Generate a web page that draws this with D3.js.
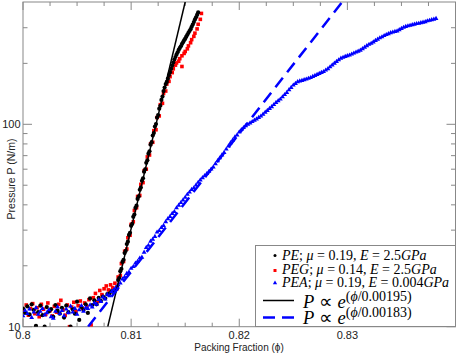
<!DOCTYPE html>
<html lang="en">
<head>
<meta charset="utf-8">
<title>Pressure vs packing fraction</title>
<script src="https://cdn.jsdelivr.net/npm/d3@7"></script>
<style>
  body { margin: 0; background: #fff; }
  svg { display: block; }
</style>
</head>
<body>
<svg id="chart"></svg>
<script>
// PE: mu=0.19, E=2.5GPa   [phi, P]
const peData = [
  [0.8000,12.3],[0.8002,11.7],[0.8004,12.6],[0.8006,11.5],[0.8008,12.9],[0.8010,12.1],[0.8012,10.1],
  [0.8014,11.8],[0.8016,12.7],[0.8018,11.4],[0.8020,10.0],[0.8022,12.5],[0.8024,11.9],[0.8026,12.2],
  [0.8028,11.2],[0.8030,12.8],[0.8032,12.0],[0.8034,11.6],[0.8036,12.4],[0.8038,11.1],[0.8040,12.7],
  [0.8042,11.8],[0.8044,10.0],[0.8046,12.2],[0.8048,11.6],[0.8050,13.3],[0.8052,10.8],[0.8054,12.5],
  [0.8056,12.1],[0.8058,12.9],[0.8060,11.7],[0.8062,13.8],[0.8064,12.8],[0.8066,13.5],[0.8068,12.9],
  [0.8070,13.9],[0.8072,13.4],[0.8074,14.1],[0.8076,13.8],[0.8078,14.5],[0.8080,14.6],[0.8082,15.0],
  [0.8084,14.8],[0.8086,15.3],[0.8087,15.7],[0.8088,17.0],[0.8089,17.4],[0.8090,18.8],[0.8091,19.3],
  [0.8092,20.9],[0.8093,21.4],[0.8094,23.1],[0.8095,23.7],[0.8096,25.6],[0.8097,26.3],[0.8098,28.4],
  [0.8099,29.1],[0.8100,31.5],[0.8101,32.2],[0.8102,34.9],[0.8103,35.8],[0.8104,38.6],[0.8105,39.6],
  [0.8106,42.8],[0.8107,44.0],[0.8108,47.5],[0.8109,48.7],[0.8110,52.6],[0.8111,54.1],[0.8112,58.3],
  [0.8113,59.9],[0.8114,64.5],[0.8115,66.4],[0.8116,71.6],[0.8117,73.6],[0.8118,79.3],[0.8119,81.6],
  [0.8120,88.0],[0.8121,90.5],[0.8122,97.5],[0.8123,100.3],[0.8124,108],[0.8125,111],[0.8126,119.5],
  [0.8127,123.5],[0.8128,132],[0.8129,137],[0.8130,146],[0.8131,152],[0.8132,158],[0.8133,162],
  [0.8134,168],[0.8135,175],[0.8136,181],[0.8137,188],[0.8138,195],[0.8139,202],[0.8140,209],
  [0.8141,215],[0.8142,221],[0.8143,227],[0.8144,233],[0.8145,238],[0.8146,243],[0.8147,249],
  [0.8148,254],[0.8149,260],[0.8150,265],[0.8151,271],[0.8152,277],[0.8153,283],[0.8154,289],
  [0.8155,295],[0.8156,303],[0.8157,311],[0.8158,320],[0.8159,329],[0.8160,338],[0.8161,347],[0.8162,357]
];

// PEG: mu=0.14, E=2.5GPa
const pegData = [
  [0.8001,11.9],[0.8003,12.8],[0.8005,11.4],[0.8007,12.3],[0.8009,13.0],[0.8011,11.6],[0.8013,12.4],
  [0.8015,11.2],[0.8017,12.9],[0.8019,12.2],[0.8021,11.5],[0.8023,13.1],[0.8025,12.0],[0.8027,11.3],
  [0.8029,12.6],[0.8031,11.8],[0.8033,12.9],[0.8035,13.5],[0.8037,12.1],[0.8039,11.4],[0.8041,12.8],
  [0.8043,10.0],[0.8045,12.5],[0.8047,13.2],[0.8049,11.9],[0.8051,12.7],[0.8053,13.4],[0.8055,12.3],
  [0.8057,13.1],[0.8059,12.6],[0.8061,13.6],[0.8063,10.2],[0.8065,13.9],[0.8067,14.6],[0.8069,13.3],
  [0.8071,15.1],[0.8073,14.4],[0.8075,15.4],[0.8077,15.9],[0.8079,15.2],[0.8081,16.1],[0.8083,15.6],
  [0.8085,16.4],[0.8087,15.4],[0.8088,17.6],[0.8090,17.9],[0.8091,20.5],[0.8093,21.0],[0.8094,23.6],
  [0.8096,24.2],[0.8097,27.5],[0.8099,28.3],[0.8100,32.0],[0.8102,33.0],[0.8103,37.5],[0.8105,38.7],
  [0.8106,44.0],[0.8108,44.5],[0.8109,50.5],[0.8111,51.5],[0.8112,59.0],[0.8114,60.0],[0.8115,69.0],
  [0.8117,70.5],[0.8118,80.0],[0.8120,81.5],[0.8121,93.0],[0.8123,94.0],[0.8124,108],[0.8126,110],
  [0.8127,125],[0.8129,127],[0.8130,142],[0.8132,146],[0.8133,158],[0.8135,163],[0.8136,172],
  [0.8138,180],[0.8139,188],[0.8141,196],[0.8142,201],[0.8144,205],[0.8145,211],[0.8147,193],
  [0.8147,218],[0.8149,224],[0.8150,229],[0.8152,236],[0.8153,244],[0.8155,253],[0.8156,262],
  [0.8158,272],[0.8159,282],[0.8161,296],[0.8162,312],[0.8164,330],[0.8165,353]
];

// PEA: mu=0.19, E=0.004GPa
const peaData = [
  [0.8000,11.3],[0.8002,12.0],[0.8004,11.6],[0.8006,12.2],[0.8008,11.1],[0.8010,11.8],[0.8012,12.4],
  [0.8014,11.5],[0.8016,11.9],[0.8018,12.3],[0.8020,11.4],[0.8022,11.7],[0.8024,12.1],[0.8026,11.2],
  [0.8028,11.0],[0.8030,11.9],[0.8032,12.5],[0.8034,11.6],[0.8036,12.0],[0.8038,11.3],[0.8040,12.2],
  [0.8042,11.7],[0.8044,12.6],[0.8046,11.8],[0.8048,12.3],[0.8050,11.5],[0.8052,12.1],[0.8054,12.7],
  [0.8056,11.9],[0.8058,12.4],[0.8060,12.3],[0.8062,12.8],[0.8064,12.5],[0.8066,13.1],[0.8068,12.9],
  [0.8070,13.6],[0.8072,13.3],[0.8074,14.0],[0.8076,13.7],[0.8078,14.4],[0.8080,14.2],[0.8082,14.9],
  [0.8084,15.2],[0.8086,15.6],[0.8088,16.1],[0.8090,16.4],[0.8092,17.2],[0.8094,17.6],[0.8096,18.3],
  [0.8098,18.6],[0.8100,19.4],[0.8102,19.8],[0.8104,20.6],[0.8106,21.0],[0.8108,21.8],[0.8110,22.0],
  [0.8112,23.3],[0.8114,24.6],[0.8116,25.2],[0.8118,26.4],[0.8120,27.0],[0.8122,27.9],[0.8124,29.3],
  [0.8126,29.8],[0.8128,30.9],[0.8130,31.6],[0.8132,33.0],[0.8134,34.1],[0.8136,35.0],[0.8138,36.2],
  [0.8140,37.0],[0.8142,38.6],[0.8144,39.8],[0.8146,41.0],[0.8148,42.2],[0.8150,43.5],[0.8152,45.0],
  [0.8154,46.2],[0.8156,47.6],[0.8158,48.5],[0.8160,50.0],[0.8162,51.6],[0.8164,53.0],[0.8166,54.4],
  [0.8168,55.6],[0.8170,57.0],[0.8172,58.5],[0.8174,60.0],[0.8176,61.5],[0.8178,63.8],[0.8180,66.0],
  [0.8182,68.2],[0.8184,70.4],[0.8186,72.5],[0.8188,75.3],[0.8190,78.0],[0.8192,81.0],[0.8194,83.6],
  [0.8196,86.4],[0.8198,88.5],[0.8200,91.5],[0.8202,94.0],[0.8204,96.2],[0.8206,98.2],[0.8208,99.8],
  [0.8210,101.4],[0.8212,103.0],[0.8214,104.6],[0.8216,106.2],[0.8218,107.9],[0.8220,109.7],[0.8222,112],
  [0.8224,114.5],[0.8226,117],[0.8228,119.5],[0.8230,122],[0.8232,125],[0.8234,128],[0.8236,130.5],
  [0.8238,133],[0.8240,136.5],[0.8242,140],[0.8244,143.5],[0.8246,148],[0.8248,152],[0.8250,156],
  [0.8252,159],[0.8254,162],[0.8256,163.5],[0.8258,164.5],[0.8260,166],[0.8262,167],[0.8264,168.5],
  [0.8266,170],[0.8268,172],[0.8270,174],[0.8272,176],[0.8274,178],[0.8276,180],[0.8278,182],
  [0.8280,185],[0.8282,188],[0.8284,192],[0.8286,196],[0.8288,200],[0.8290,204],[0.8292,208],
  [0.8294,212],[0.8296,214],[0.8298,216],[0.8300,218],[0.8302,219.5],[0.8304,222],[0.8306,224.5],
  [0.8308,227],[0.8310,229.5],[0.8312,232],[0.8314,236],[0.8316,240],[0.8318,244],[0.8320,248],
  [0.8322,251],[0.8324,255],[0.8326,259],[0.8328,263],[0.8330,267],[0.8332,270],[0.8334,274],
  [0.8336,277],[0.8338,280],[0.8340,283],[0.8342,285],[0.8344,287],[0.8346,289],[0.8348,293],
  [0.8350,297],[0.8352,301],[0.8354,304],[0.8356,306],[0.8358,308],[0.8360,310],[0.8362,312],
  [0.8364,314],[0.8366,315],[0.8368,317],[0.8370,319],[0.8372,321],[0.8374,324],[0.8376,326],
  [0.8378,328],[0.8380,330],[0.8382,333]
];

// exponential fits, straight in log space: end points [phi, P]
const fitPE = [[0.80784,10],[0.81500,402]];
const fitPEA = [[0.80602,10],[0.82952,402]];

const xTickVals = [0.8, 0.81, 0.82, 0.83];
const xTickLabels = ["0.8", "0.81", "0.82", "0.83"];
const yTickVals = [10, 100];
const yTickLabels = ["10", "100"];
const yMinor = [20, 30, 40, 50, 60, 70, 80, 90, 200, 300];

const W = 457, H = 355;
const L = 23, R = 455.5, T = 2, B = 326.7;

const svg = d3.select("#chart").attr("width", W).attr("height", H);

const x = d3.scaleLinear().domain([0.8, 0.84]).range([L, R]);
const y = d3.scaleLog().domain([10, 402]).range([B, T]);

svg.append("clipPath").attr("id", "clip")
  .append("rect").attr("x", L).attr("y", T).attr("width", R - L).attr("height", B - T);

const axisCol = "#888";

// frame
svg.append("rect")
  .attr("x", L).attr("y", T).attr("width", R - L).attr("height", B - T)
  .attr("fill", "none").attr("stroke", axisCol).attr("stroke-width", 1);

// ticks on all four sides, pointing in
const xMinor = d3.range(0.8025, 0.84, 0.0025).filter(v => !xTickVals.some(t => Math.abs(t - v) < 1e-6));
const tickG = svg.append("g").attr("stroke", axisCol).attr("stroke-width", 1);
xTickVals.forEach(v => {
  tickG.append("line").attr("x1", x(v)).attr("x2", x(v)).attr("y1", B).attr("y2", B - 8);
  tickG.append("line").attr("x1", x(v)).attr("x2", x(v)).attr("y1", T).attr("y2", T + 8);
});
xMinor.forEach(v => {
  tickG.append("line").attr("x1", x(v)).attr("x2", x(v)).attr("y1", B).attr("y2", B - 4);
  tickG.append("line").attr("x1", x(v)).attr("x2", x(v)).attr("y1", T).attr("y2", T + 4);
});
yTickVals.forEach(v => {
  tickG.append("line").attr("x1", L).attr("x2", L + 9).attr("y1", y(v)).attr("y2", y(v));
  tickG.append("line").attr("x1", R).attr("x2", R - 9).attr("y1", y(v)).attr("y2", y(v));
});
yMinor.forEach(v => {
  tickG.append("line").attr("x1", L).attr("x2", L + 4.5).attr("y1", y(v)).attr("y2", y(v));
  tickG.append("line").attr("x1", R).attr("x2", R - 4.5).attr("y1", y(v)).attr("y2", y(v));
});

const sans = "'Liberation Sans', Arial, sans-serif";

svg.append("g").selectAll("text").data(xTickVals).join("text")
  .attr("x", d => x(d)).attr("y", 339)
  .attr("text-anchor", "middle")
  .style("font-family", sans).style("font-size", "11px").attr("fill", "#222")
  .text((d, i) => xTickLabels[i]);

svg.append("g").selectAll("text").data(yTickVals).join("text")
  .attr("x", 20.5).attr("y", d => y(d) + 4)
  .attr("text-anchor", "end")
  .style("font-family", sans).style("font-size", "11px").attr("fill", "#222")
  .text((d, i) => yTickLabels[i]);

svg.append("text")
  .attr("x", 239).attr("y", 351).attr("text-anchor", "middle")
  .style("font-family", sans).style("font-size", "10px").attr("fill", "#222")
  .text("Packing Fraction (\u03D5)");

svg.append("text")
  .attr("transform", "translate(14.5,179) rotate(-90)")
  .attr("text-anchor", "middle")
  .style("font-family", sans).style("font-size", "10.5px").attr("fill", "#222")
  .text("Pressure P (N/m)");

// data
const plot = svg.append("g").attr("clip-path", "url(#clip)");

plot.append("g").selectAll("rect").data(pegData).join("rect")
  .attr("x", d => x(d[0]) - 1.8).attr("y", d => y(d[1]) - 1.8)
  .attr("width", 3.6).attr("height", 3.6).attr("fill", "#f00");

plot.append("g").selectAll("circle").data(peData).join("circle")
  .attr("cx", d => x(d[0])).attr("cy", d => y(d[1])).attr("r", 2.1)
  .attr("fill", "#000");

const tri = d3.symbol().type(d3.symbolTriangle).size(10);
plot.append("g").selectAll("path").data(peaData).join("path")
  .attr("transform", d => `translate(${x(d[0])},${y(d[1])})`)
  .attr("d", tri).attr("fill", "#00f");

const line = d3.line().x(d => x(d[0])).y(d => y(d[1]));

plot.append("path").datum(fitPE).attr("d", line)
  .attr("fill", "none").attr("stroke", "#000").attr("stroke-width", 1.5);

plot.append("path").datum(fitPEA).attr("d", line)
  .attr("fill", "none").attr("stroke", "#00f").attr("stroke-width", 2.5)
  .attr("stroke-dasharray", "12,7");

// legend
const lg = svg.append("g");
lg.append("rect").attr("x", 255.5).attr("y", 245.5).attr("width", 200).attr("height", 81)
  .attr("fill", "#fff").attr("stroke", axisCol).attr("stroke-width", 1);

const serif = "'Liberation Serif', 'Times New Roman', serif";
const legendRows = [
  { y: 259.5, segs: [["PE",1],["; ",0],["\u03BC",1],[" = 0.19, ",0],["E",1],[" = 2.5",0],["GPa",1]] },
  { y: 273.5, segs: [["PEG",1],["; ",0],["\u03BC",1],[" = 0.14, ",0],["E",1],[" = 2.5",0],["GPa",1]] },
  { y: 287, segs: [["PEA",1],["; ",0],["\u03BC",1],[" = 0.19, ",0],["E",1],[" = 0.004",0],["GPa",1]] }
];
legendRows.forEach(r => {
  const t = lg.append("text").attr("x", 282).attr("y", r.y)
    .style("font-family", serif).style("font-size", "14px").attr("fill", "#000");
  r.segs.forEach(s => t.append("tspan").style("font-style", s[1] ? "italic" : "normal").text(s[0]));
});
lg.append("circle").attr("cx", 275).attr("cy", 255.5).attr("r", 1.5).attr("fill", "#000");
lg.append("rect").attr("x", 273.5).attr("y", 269).attr("width", 3).attr("height", 3).attr("fill", "#f00");
lg.append("path").attr("transform", "translate(275,283)").attr("d", d3.symbol().type(d3.symbolTriangle).size(8)).attr("fill", "#00f");

const fitRows = [
  { y: 307.5, ly: 300.5, exp: "0.00195)", col: "#000", dash: null, w: 1.5 },
  { y: 324, ly: 317.5, exp: "0.00183)", col: "#00f", dash: "12,7", w: 2.5 }
];
fitRows.forEach(r => {
  lg.append("line").attr("x1", 263).attr("x2", 294).attr("y1", r.ly).attr("y2", r.ly)
    .attr("stroke", r.col).attr("stroke-width", r.w).attr("stroke-dasharray", r.dash);
  const t = lg.append("text").attr("x", 303).attr("y", r.y)
    .style("font-family", serif).style("font-size", "18.5px").attr("fill", "#000");
  t.append("tspan").style("font-style", "italic").text("P");
  t.append("tspan").text(" \u221D ");
  t.append("tspan").style("font-style", "italic").text("e");
  const sup = t.append("tspan").attr("dy", -6.6).style("font-size", "14px");
  sup.append("tspan").text("(");
  sup.append("tspan").style("font-style", "italic").text("\u03D5");
  sup.append("tspan").text("/" + r.exp);
});
</script>
</body>
</html>
